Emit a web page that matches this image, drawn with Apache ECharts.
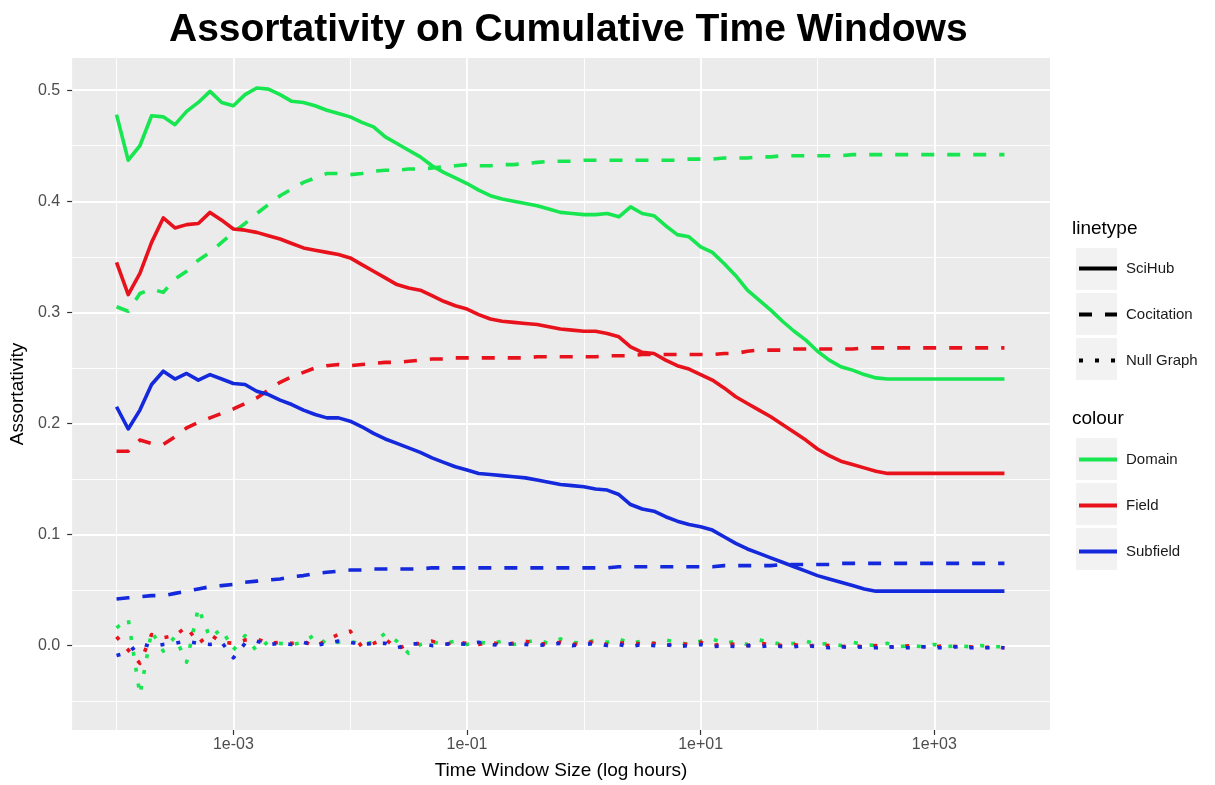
<!DOCTYPE html>
<html>
<head>
<meta charset="utf-8">
<script src="https://cdn.jsdelivr.net/npm/echarts@6/dist/echarts.min.js"></script>
<style>
html,body{margin:0;padding:0;background:#fff;}
#chart{width:1215px;height:785px;}
</style>
</head>
<body>
<div id="chart"></div>
<script>
// log10(hours)
var logHours = [
 -4.0,-3.9,-3.8,-3.7,-3.6,-3.5,-3.4,-3.3,-3.2,-3.1,
 -3.0,-2.9,-2.8,-2.7,-2.6,-2.5,-2.4,-2.3,-2.2,-2.1,
 -2.0,-1.9,-1.8,-1.7,-1.6,-1.5,-1.4,-1.3,-1.2,-1.1,
 -1.0,-0.9,-0.8,-0.7,-0.6,-0.5,-0.4,-0.3,-0.2,-0.1,
 0.0,0.1,0.2,0.3,0.4,0.5,0.6,0.7,0.8,0.9,
 1.0,1.1,1.2,1.3,1.4,1.5,1.6,1.7,1.8,1.9,
 2.0,2.1,2.2,2.3,2.4,2.5,2.6,2.7,2.8,2.9,
 3.0,3.1,3.2,3.3,3.4,3.5,3.6];

var domainSciHub = [
 0.478,0.437,0.450,0.477,0.476,0.469,0.481,0.489,0.499,0.489,
 0.486,0.496,0.502,0.501,0.496,0.490,0.489,0.486,0.482,0.479,
 0.476,0.471,0.467,0.458,0.452,0.446,0.440,0.432,0.426,0.421,
 0.416,0.410,0.405,0.402,0.400,0.398,0.396,0.393,0.390,0.389,
 0.388,0.388,0.389,0.386,0.395,0.389,0.387,0.378,0.370,0.368,
 0.359,0.354,0.344,0.333,0.320,0.311,0.302,0.292,0.283,0.275,
 0.265,0.257,0.251,0.248,0.244,0.241,0.240,0.240,0.240,0.240,
 0.240,0.240,0.240,0.240,0.240,0.240,0.240];
var fieldSciHub = [
 0.345,0.316,0.335,0.363,0.385,0.376,0.379,0.380,0.390,0.383,
 0.375,0.374,0.372,0.369,0.366,0.362,0.358,0.356,0.354,0.352,
 0.349,0.343,0.337,0.331,0.325,0.322,0.320,0.315,0.310,0.306,
 0.303,0.298,0.294,0.292,0.291,0.290,0.289,0.287,0.285,0.284,
 0.283,0.283,0.281,0.278,0.269,0.264,0.263,0.257,0.252,0.249,
 0.244,0.239,0.232,0.224,0.218,0.212,0.206,0.199,0.192,0.185,
 0.177,0.171,0.166,0.163,0.160,0.157,0.155,0.155,0.155,0.155,
 0.155,0.155,0.155,0.155,0.155,0.155,0.155];
var subfieldSciHub = [
 0.215,0.195,0.212,0.235,0.247,0.240,0.245,0.239,0.244,0.240,
 0.236,0.235,0.229,0.226,0.221,0.217,0.212,0.208,0.205,0.205,
 0.202,0.197,0.191,0.186,0.182,0.178,0.174,0.169,0.165,0.161,
 0.158,0.155,0.154,0.153,0.152,0.151,0.149,0.147,0.145,0.144,
 0.143,0.141,0.140,0.136,0.127,0.123,0.121,0.116,0.112,0.109,
 0.107,0.104,0.098,0.092,0.087,0.083,0.079,0.075,0.071,0.067,
 0.063,0.060,0.057,0.054,0.051,0.049,0.049,0.049,0.049,0.049,
 0.049,0.049,0.049,0.049,0.049,0.049,0.049];

var domainCocitation = [
 0.305,0.301,0.317,0.321,0.318,0.330,0.337,0.347,0.354,0.363,
 0.372,0.380,0.389,0.397,0.405,0.411,0.417,0.421,0.425,0.425,
 0.424,0.425,0.427,0.428,0.428,0.429,0.429,0.430,0.431,0.432,
 0.433,0.432,0.432,0.433,0.433,0.434,0.435,0.436,0.436,0.436,
 0.437,0.437,0.437,0.437,0.437,0.437,0.437,0.437,0.437,0.438,
 0.438,0.438,0.439,0.439,0.439,0.440,0.440,0.441,0.441,0.441,
 0.441,0.441,0.441,0.442,0.442,0.442,0.442,0.442,0.442,0.442,
 0.442,0.442,0.442,0.442,0.442,0.442,0.442];
var fieldCocitation = [
 0.175,0.175,0.185,0.182,0.181,0.188,0.196,0.201,0.205,0.209,
 0.213,0.218,0.223,0.230,0.237,0.242,0.246,0.250,0.252,0.253,
 0.252,0.253,0.254,0.255,0.255,0.256,0.257,0.258,0.258,0.259,
 0.259,0.259,0.259,0.259,0.259,0.259,0.260,0.260,0.260,0.260,
 0.260,0.260,0.261,0.261,0.261,0.262,0.262,0.262,0.262,0.262,
 0.262,0.262,0.263,0.263,0.265,0.266,0.266,0.266,0.267,0.267,
 0.267,0.267,0.267,0.267,0.268,0.268,0.268,0.268,0.268,0.268,
 0.268,0.268,0.268,0.268,0.268,0.268,0.268];
var subfieldCocitation = [
 0.042,0.043,0.044,0.045,0.045,0.047,0.049,0.051,0.053,0.054,
 0.055,0.057,0.058,0.059,0.060,0.062,0.063,0.065,0.066,0.067,
 0.068,0.068,0.069,0.069,0.069,0.069,0.069,0.070,0.070,0.070,
 0.070,0.070,0.070,0.070,0.070,0.070,0.070,0.070,0.070,0.070,
 0.070,0.070,0.070,0.071,0.071,0.071,0.071,0.071,0.071,0.071,
 0.071,0.071,0.072,0.072,0.072,0.072,0.072,0.073,0.073,0.073,
 0.073,0.073,0.074,0.074,0.074,0.074,0.074,0.074,0.074,0.074,
 0.074,0.074,0.074,0.074,0.074,0.074,0.074];

var domainNull = [
 0.016,0.024,-0.044,0.013,-0.005,0.008,-0.015,0.034,0.007,0.015,
 -0.004,0.009,-0.005,0.004,0.002,0.001,0.003,0.010,0.001,0.003,
 0.004,0.001,0.003,0.011,0.004,-0.007,0.001,0.003,0.002,0.004,
 0.001,0.003,0.002,0.004,0.001,0.003,0.005,0.002,0.006,0.003,
 0.002,0.005,0.003,0.006,0.002,0.004,0.002,0.005,0.003,0.001,
 0.004,0.006,0.002,0.004,0.001,0.005,0.003,0.001,0.002,0.004,
 0.001,0.002,0.000,0.003,0.001,0.000,0.002,-0.001,0.000,-0.001,
 0.001,-0.001,0.000,-0.001,0.000,-0.001,-0.001];
var fieldNull = [
 0.008,-0.004,-0.016,0.010,0.007,0.009,0.017,0.002,0.010,0.003,
 0.002,0.005,0.006,0.002,0.003,0.002,0.004,-0.001,0.005,0.010,
 0.013,-0.001,0.002,0.006,-0.003,0.001,0.002,0.004,0.001,0.003,
 0.002,0.001,0.003,0.001,0.002,0.004,0.002,0.001,0.003,0.001,
 0.002,0.004,0.001,0.002,0.003,0.001,0.002,0.000,0.002,0.001,
 0.003,0.000,0.002,0.001,0.000,0.002,0.001,0.000,0.001,-0.001,
 0.001,0.000,-0.001,0.000,-0.001,0.000,-0.001,-0.001,0.000,-0.001,
 -0.001,0.000,-0.001,-0.001,-0.002,-0.001,-0.002];
var subfieldNull = [
 -0.009,-0.006,0.002,-0.001,0.001,0.002,0.004,0.002,0.001,0.003,
 -0.011,0.002,0.004,0.001,0.002,0.001,0.003,0.000,0.002,0.004,
 0.003,0.001,0.002,0.002,-0.002,0.001,0.002,0.000,0.001,0.002,
 0.001,0.003,0.001,0.000,0.002,0.001,0.000,0.001,0.002,0.000,
 0.001,0.002,0.000,0.001,-0.001,0.001,0.000,0.001,-0.001,0.000,
 0.001,-0.001,0.000,-0.001,0.000,-0.001,0.000,-0.001,-0.001,0.000,
 -0.001,-0.002,-0.001,-0.002,-0.001,-0.002,-0.001,-0.002,-0.002,-0.001,
 -0.002,-0.002,-0.001,-0.002,-0.002,-0.002,-0.002];

var colourNames = ['Domain', 'Field', 'Subfield'];
var linetypeNames = ['SciHub', 'Cocitation', 'Null Graph'];
var xMajorTicks = [-3, -1, 1, 3];
var xTickLabels = ['1e-03', '1e-01', '1e+01', '1e+03'];
var xMinorTicks = [-4, -2, 0, 2];
var yMajorTicks = [0, 0.1, 0.2, 0.3, 0.4, 0.5];
var yTickLabels = ['0.0', '0.1', '0.2', '0.3', '0.4', '0.5'];
var yMinorTicks = [-0.05, 0.05, 0.15, 0.25, 0.35, 0.45];

var colours = {Domain: '#17e650', Field: '#e8121c', Subfield: '#1428dc'};
var dashTypes = {SciHub: 'solid', Cocitation: [13, 13], 'Null Graph': [4, 12]};
var LW = 3.6;

function pairs(vals) { return logHours.map(function (x, i) { return [x, vals[i]]; }); }

var table = {
  Domain:   {SciHub: domainSciHub,   Cocitation: domainCocitation,   'Null Graph': domainNull},
  Field:    {SciHub: fieldSciHub,    Cocitation: fieldCocitation,    'Null Graph': fieldNull},
  Subfield: {SciHub: subfieldSciHub, Cocitation: subfieldCocitation, 'Null Graph': subfieldNull}
};

var series = [];
['Null Graph', 'Cocitation', 'SciHub'].forEach(function (lt) {
  colourNames.forEach(function (c) {
    series.push({
      name: c + ' ' + lt, type: 'line', xAxisIndex: 0, yAxisIndex: 0,
      data: pairs(table[c][lt]), showSymbol: false, symbol: 'none', silent: true,
      lineStyle: {color: colours[c], width: LW, type: dashTypes[lt], cap: 'butt', join: 'round'},
      itemStyle: {color: colours[c]}, animation: false
    });
  });
});
// legend-only entries
linetypeNames.forEach(function (lt) {
  series.push({name: lt, type: 'line', data: [], symbol: 'none',
    lineStyle: {color: '#000', width: 4, type: dashTypes[lt]}, itemStyle: {color: '#000'}});
});
colourNames.forEach(function (c) {
  series.push({name: c, type: 'line', data: [], symbol: 'none',
    lineStyle: {color: colours[c], width: 4, type: 'solid'}, itemStyle: {color: colours[c]}});
});

var FONT = '"Liberation Sans", Arial, Helvetica, sans-serif';
var gridL = 71, gridT = 58, gridR = 1050, gridB = 733;
var xMin = -4.38, xMax = 3.99, yMin = -0.076, yMax = 0.529;

function keyRects(top) {
  var out = [];
  for (var i = 0; i < 3; i++) {
    out.push({type: 'rect', left: 1075, top: top + i * 45, z: -1,
      shape: {width: 42, height: 43}, style: {fill: '#f2f2f2', stroke: '#ffffff', lineWidth: 1}});
  }
  return out;
}

var legendCommon = {orient: 'vertical', left: 1077, padding: 0,
  itemWidth: 38, itemHeight: 14, itemGap: 31, selectedMode: false,
  lineStyle: {width: 4},
  itemStyle: {opacity: 0, color: 'rgba(0,0,0,0)', borderWidth: 0},
  textStyle: {fontFamily: FONT, fontSize: 15, color: '#1a1a1a', padding: [0, 0, 0, 4]}};

var chart = echarts.init(document.getElementById('chart'), null, {renderer: 'canvas'});
chart.setOption({
  animation: false,
  backgroundColor: '#ffffff',
  textStyle: {fontFamily: FONT},
  title: [
    {text: 'Assortativity on Cumulative Time Windows', left: 164, top: 6,
     textStyle: {fontFamily: FONT, fontWeight: 'bold', fontSize: 39, color: '#000'}},
    {text: 'linetype', left: 1072, top: 219, padding: 0,
     textStyle: {fontFamily: FONT, fontWeight: 'normal', fontSize: 19, color: '#000'}},
    {text: 'colour', left: 1072, top: 409, padding: 0,
     textStyle: {fontFamily: FONT, fontWeight: 'normal', fontSize: 19, color: '#000'}}
  ],
  legend: [
    Object.assign({}, legendCommon, {data: linetypeNames, top: 261}),
    Object.assign({}, legendCommon, {data: colourNames, top: 452})
  ],
  graphic: keyRects(247).concat(keyRects(437)),
  grid: {left: gridL, top: gridT, width: gridR - gridL, height: gridB - gridT,
    show: true, backgroundColor: '#ebebeb', borderWidth: 0},
  xAxis: [
    {type: 'value', min: xMin, max: xMax, position: 'bottom',
     name: 'Time Window Size (log hours)', nameLocation: 'middle', nameGap: 31,
     nameTextStyle: {fontFamily: FONT, fontSize: 19, color: '#000'},
     axisLine: {show: false, onZero: false},
     axisTick: {show: true, length: 5, lineStyle: {color: '#333', width: 1.2}, customValues: xMajorTicks},
     axisLabel: {customValues: xMajorTicks, margin: 7, fontFamily: FONT, fontSize: 16, color: '#4d4d4d',
       formatter: function (v) { var i = xMajorTicks.indexOf(Math.round(v)); return i >= 0 ? xTickLabels[i] : ''; }},
     splitLine: {show: true, lineStyle: {color: '#ffffff', width: 1.8}}},
    {type: 'value', min: xMin, max: xMax, position: 'bottom', show: true,
     axisLine: {show: false, onZero: false}, axisLabel: {show: false},
     axisTick: {show: false, customValues: xMinorTicks},
     splitLine: {show: true, lineStyle: {color: '#ffffff', width: 0.9}}}
  ],
  yAxis: [
    {type: 'value', min: yMin, max: yMax, position: 'left',
     name: 'Assortativity', nameLocation: 'middle', nameGap: 41, nameRotate: 90,
     nameTextStyle: {fontFamily: FONT, fontSize: 19, color: '#000'},
     axisLine: {show: false, onZero: false},
     axisTick: {show: true, length: 5, lineStyle: {color: '#333', width: 1.2}, customValues: yMajorTicks},
     axisLabel: {customValues: yMajorTicks, margin: 12, fontFamily: FONT, fontSize: 16, color: '#4d4d4d',
       formatter: function (v) { var i = yMajorTicks.indexOf(Math.round(v * 10) / 10); return i >= 0 ? yTickLabels[i] : ''; }},
     splitLine: {show: true, lineStyle: {color: '#ffffff', width: 1.8}}},
    {type: 'value', min: yMin, max: yMax, position: 'left', show: true,
     axisLine: {show: false, onZero: false}, axisLabel: {show: false},
     axisTick: {show: false, customValues: yMinorTicks},
     splitLine: {show: true, lineStyle: {color: '#ffffff', width: 0.9}}}
  ],
  series: series
});
</script>
</body>
</html>
